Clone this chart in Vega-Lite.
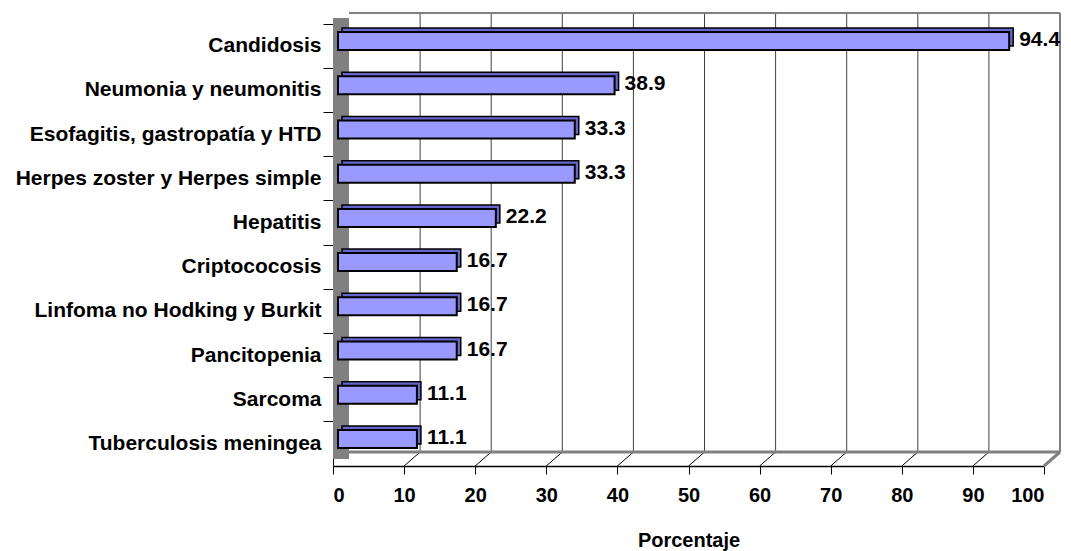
{
  "$schema": "https://vega.github.io/schema/vega-lite/v6.json",
  "width": 711,
  "height": 442,
  "autosize": {"type": "none"},
  "padding": {"left": 333, "top": 24, "right": 27, "bottom": 85},
  "background": "white",
  "config": {
    "view": {"stroke": null},
    "font": "Liberation Sans",
    "axis": {"labelFont": "Liberation Sans", "titleFont": "Liberation Sans"}
  },
  "data": {
    "values": [
      {"infeccion": "Candidosis", "porcentaje": 94.4},
      {"infeccion": "Neumonia y neumonitis", "porcentaje": 38.9},
      {"infeccion": "Esofagitis, gastropatía y HTD", "porcentaje": 33.3},
      {"infeccion": "Herpes zoster y Herpes simple", "porcentaje": 33.3},
      {"infeccion": "Hepatitis", "porcentaje": 22.2},
      {"infeccion": "Criptococosis", "porcentaje": 16.7},
      {"infeccion": "Linfoma no Hodking y Burkit", "porcentaje": 16.7},
      {"infeccion": "Pancitopenia", "porcentaje": 16.7},
      {"infeccion": "Sarcoma", "porcentaje": 11.1},
      {"infeccion": "Tuberculosis meningea", "porcentaje": 11.1}
    ]
  },
  "layer": [
    {
      "description": "side wall of the 3D plot box",
      "data": {"values": [{}]},
      "mark": {"type": "rect", "fill": "#808080", "x2Offset": 16, "yOffset": -7, "y2Offset": -6},
      "encoding": {
        "x": {"datum": 0, "type": "quantitative", "title": "Porcentaje"},
        "x2": {"datum": 0},
        "y": {"datum": 0, "type": "quantitative", "scale": {"domain": [0, 1]}, "axis": null},
        "y2": {"datum": 1}
      }
    },
    {
      "description": "gridlines on the back wall",
      "data": {"values": [{"v": 10}, {"v": 20}, {"v": 30}, {"v": 40}, {"v": 50}, {"v": 60}, {"v": 70}, {"v": 80}, {"v": 90}]},
      "mark": {"type": "rule", "stroke": "#404040", "strokeWidth": 1, "xOffset": 16, "yOffset": -11, "y2Offset": -14},
      "encoding": {
        "x": {"field": "v", "type": "quantitative", "title": "Porcentaje"},
        "y": {"datum": 1, "type": "quantitative", "scale": {"domain": [0, 1]}, "axis": null},
        "y2": {"datum": 0}
      }
    },
    {
      "description": "floor diagonals from each tick",
      "data": {"values": [{"v": 10}, {"v": 20}, {"v": 30}, {"v": 40}, {"v": 50}, {"v": 60}, {"v": 70}, {"v": 80}, {"v": 90}]},
      "mark": {"type": "rule", "stroke": "#000000", "strokeWidth": 1, "x2Offset": 16, "y2Offset": -14},
      "encoding": {
        "x": {"field": "v", "type": "quantitative", "title": "Porcentaje"},
        "x2": {"field": "v"},
        "y": {"datum": 0, "type": "quantitative", "scale": {"domain": [0, 1]}, "axis": null},
        "y2": {"datum": 0}
      }
    },
    {
      "description": "top edge of the back wall",
      "data": {"values": [{}]},
      "mark": {"type": "rule", "stroke": "#808080", "strokeWidth": 2, "xOffset": 16, "x2Offset": 16, "yOffset": -11},
      "encoding": {
        "x": {"datum": 0, "type": "quantitative", "title": "Porcentaje"},
        "x2": {"datum": 100},
        "y": {"datum": 1, "type": "quantitative", "scale": {"domain": [0, 1]}, "axis": null}
      }
    },
    {
      "description": "right edge of the back wall",
      "data": {"values": [{}]},
      "mark": {"type": "rule", "stroke": "#808080", "strokeWidth": 2, "xOffset": 16, "yOffset": -11, "y2Offset": -14},
      "encoding": {
        "x": {"datum": 100, "type": "quantitative", "title": "Porcentaje"},
        "y": {"datum": 1, "type": "quantitative", "scale": {"domain": [0, 1]}, "axis": null},
        "y2": {"datum": 0}
      }
    },
    {
      "description": "back edge of the floor",
      "data": {"values": [{}]},
      "mark": {"type": "rule", "stroke": "#808080", "strokeWidth": 3, "xOffset": 16, "x2Offset": 16, "yOffset": -14},
      "encoding": {
        "x": {"datum": 0, "type": "quantitative", "title": "Porcentaje"},
        "x2": {"datum": 100},
        "y": {"datum": 0, "type": "quantitative", "scale": {"domain": [0, 1]}, "axis": null}
      }
    },
    {
      "description": "right edge of the floor",
      "data": {"values": [{}]},
      "mark": {"type": "rule", "stroke": "#808080", "strokeWidth": 3, "x2Offset": 16, "y2Offset": -14},
      "encoding": {
        "x": {"datum": 100, "type": "quantitative", "title": "Porcentaje"},
        "x2": {"datum": 100},
        "y": {"datum": 0, "type": "quantitative", "scale": {"domain": [0, 1]}, "axis": null},
        "y2": {"datum": 0}
      }
    },
    {
      "description": "depth of each bar (top and end faces)",
      "mark": {"type": "bar", "size": 18, "fill": "#6666CC", "stroke": "#000000", "strokeWidth": 1.5, "xOffset": 9, "x2Offset": 9, "yOffset": -9},
      "encoding": {
        "y": {"field": "infeccion", "type": "nominal", "sort": null, "scale": {"paddingInner": 0, "paddingOuter": 0}, "axis": null},
        "x": {"field": "porcentaje", "type": "quantitative", "title": "Porcentaje"}
      }
    },
    {
      "description": "front face of each bar, carrying both axes",
      "mark": {"type": "bar", "size": 18, "fill": "#9999FF", "stroke": "#000000", "strokeWidth": 2, "xOffset": 5, "x2Offset": 5, "yOffset": -5},
      "encoding": {
        "y": {
          "field": "infeccion", "type": "nominal", "sort": null,
          "scale": {"paddingInner": 0, "paddingOuter": 0},
          "axis": {
            "title": null, "bandPosition": 0, "labelOffset": 0,
            "domainColor": "#000000", "domainWidth": 1,
            "tickColor": "#000000", "tickSize": 10, "labelPadding": 2,
            "labelFontSize": 21, "labelFontWeight": "bold", "labelColor": "#000000",
            "labelLimit": 400
          }
        },
        "x": {
          "field": "porcentaje", "type": "quantitative",
          "scale": {"domain": [0, 100], "nice": false},
          "axis": {
            "title": "Porcentaje", "values": [0, 10, 20, 30, 40, 50, 60, 70, 80, 90, 100],
            "grid": false, "domainColor": "#000000", "domainWidth": 1.5,
            "tickColor": "#000000", "tickSize": 8, "labelPadding": 11,
            "labelFontSize": 20, "labelFontWeight": "bold", "labelColor": "#000000",
            "titleFontSize": 20, "titleFontWeight": "bold", "titleColor": "#000000", "titlePadding": 25
          }
        }
      }
    },
    {
      "description": "value labels",
      "mark": {"type": "text", "align": "left", "baseline": "middle", "dx": 15, "dy": -6, "fontSize": 21, "fontWeight": "bold", "color": "#000000"},
      "encoding": {
        "y": {"field": "infeccion", "type": "nominal", "sort": null, "scale": {"paddingInner": 0, "paddingOuter": 0}, "axis": null},
        "x": {"field": "porcentaje", "type": "quantitative", "title": "Porcentaje"},
        "text": {"field": "porcentaje", "type": "quantitative", "format": ".1f"}
      }
    }
  ],
  "resolve": {"scale": {"y": "independent"}, "axis": {"y": "independent"}}
}
